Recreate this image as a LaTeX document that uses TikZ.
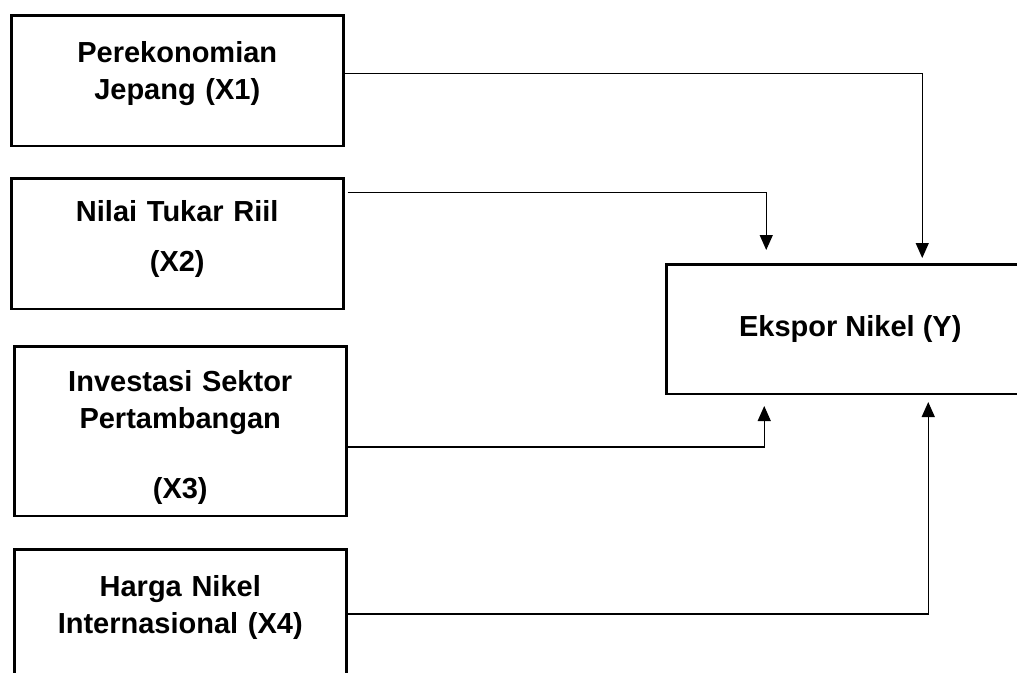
\documentclass[tikz,border=0pt]{standalone}
\usepackage{fontspec}
\setmainfont{Liberation Sans}
\usetikzlibrary{arrows.meta,positioning}

\begin{document}
\begin{tikzpicture}[x=1pt,y=-1pt,
   varbox/.style={draw,line width=2.5pt,inner sep=0pt,text width=332pt,
                  align=center,anchor=north west,
                  font=\bfseries\fontsize{29}{37}\selectfont},
   ybox/.style={draw,line width=2.5pt,inner sep=0pt,minimum width=368pt,
                minimum height=129.5pt,anchor=north west,
                font=\bfseries\fontsize{29}{37}\selectfont},
   link/.style={-{Triangle[length=15pt,width=13pt]},line width=1.2pt}]
  \clip (0,0) rectangle (1017,672);
  \fill[white] (0,0) rectangle (1017,672);
  % independent variables
  \node[varbox,text height=47.5pt,text depth=83pt] (x1) at (10,14)
    {Perekonomian\\Jepang (X1)};
  \node[varbox,text height=43.5pt,text depth=87pt,below=30pt of x1] (x2)
    {Nilai Tukar Riil\\[13pt](X2)};
  \node[varbox,text height=45.5pt,text depth=124pt,below=35pt of x2,xshift=3pt] (x3)
    {Investasi Sektor\\Pertambangan\\[33pt](X3)};
  \node[varbox,text height=47.5pt,text depth=124pt,below=31pt of x3] (x4)
    {Harga Nikel\\Internasional (X4)};
  % dependent variable
  \node[ybox] (ekspor) at (665,263) {Ekspor Nikel (Y)};
  \draw[link,shorten >=5pt] ([yshift=7pt]x1.east) -| ([xshift=72pt]ekspor.north);
  \draw[link,shorten <=3pt,shorten >=13pt] ([yshift=51pt]x2.east) -| ([xshift=-84pt]ekspor.north);
  \draw[link,shorten >=11pt] ([yshift=-16pt]x3.east) -| ([xshift=-86pt]ekspor.south);
  \draw[link,shorten >=7pt] ([yshift=21pt]x4.east) -| ([xshift=78pt]ekspor.south);
\end{tikzpicture}
\end{document}
